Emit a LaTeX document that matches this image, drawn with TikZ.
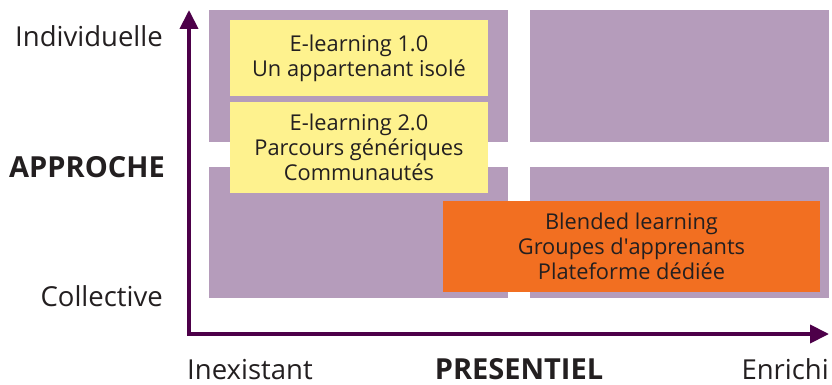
\documentclass[tikz,border=0pt]{standalone}
\usepackage{fontspec}
\setmainfont{Open Sans}
\usetikzlibrary{arrows.meta}
\definecolor{quadc}{HTML}{B59CBB}
\definecolor{yelc}{HTML}{FEF28E}
\definecolor{orac}{HTML}{F26F21}
\definecolor{axc}{HTML}{4D0049}
\definecolor{txc}{HTML}{231F20}
\tikzset{
  quad/.style={fill=quadc, inner sep=0pt, minimum width=299pt, minimum height=132pt},
  ybox/.style={fill=yelc, inner sep=0pt, minimum width=258pt, align=center, text=txc, font=\fontsize{21.8}{25}\selectfont},
  obox/.style={fill=orac, inner sep=0pt, minimum width=377pt, minimum height=91pt, align=center, text=txc, font=\fontsize{21.8}{25}\selectfont},
  axis/.style={draw=axc, line width=4pt, line join=miter, {Triangle[width=18pt,length=19pt]}-{Triangle[width=18pt,length=19pt]}},
  lab/.style={text=txc, inner sep=0pt, text depth=0pt, font=\fontsize{27.5}{30}\selectfont},
  blab/.style={lab, font=\fontsize{29}{30}\selectfont\bfseries}
}
\begin{document}
\begin{tikzpicture}[x=1pt,y=-1pt]
\useasboundingbox (0,0) rectangle (832,385);
\node[quad] (q1) at (358.5,76) {};
\node[quad] (q2) at (679.5,76) {};
\node[quad, minimum height=131pt] (q3) at (358.5,232.5) {};
\node[quad, minimum height=131pt] (q4) at (679.5,232.5) {};
\node[ybox, minimum height=76pt] (e1) at (359,58) {E-learning 1.0\\Un appartenant isolé};
\node[ybox, minimum height=91pt] (e2) at (359,147.5) {E-learning 2.0\\Parcours génériques\\Communautés};
\node[obox] (bl) at (631.5,246.5) {Blended learning\\Groupes d\textquotesingle apprenants\\Plateforme dédiée};
\coordinate (ytop) at (189,10);
\coordinate (orig) at (189,334);
\coordinate (xend) at (829,334);
\draw[axis] (ytop) -- (orig) -- (xend);
\node[lab, anchor=base east] (ind) at (163,47) {Individuelle};
\node[blab, anchor=base east] (app) at (165,177) {APPROCHE};
\node[lab, anchor=base east] (col) at (163,306) {Collective};
\node[lab, anchor=base west] (inex) at (187,379) {Inexistant};
\node[blab, anchor=base] (pres) at (519,379) {PRESENTIEL};
\node[lab, anchor=base east] (enr) at (829,379) {Enrichi};
\end{tikzpicture}
\end{document}
